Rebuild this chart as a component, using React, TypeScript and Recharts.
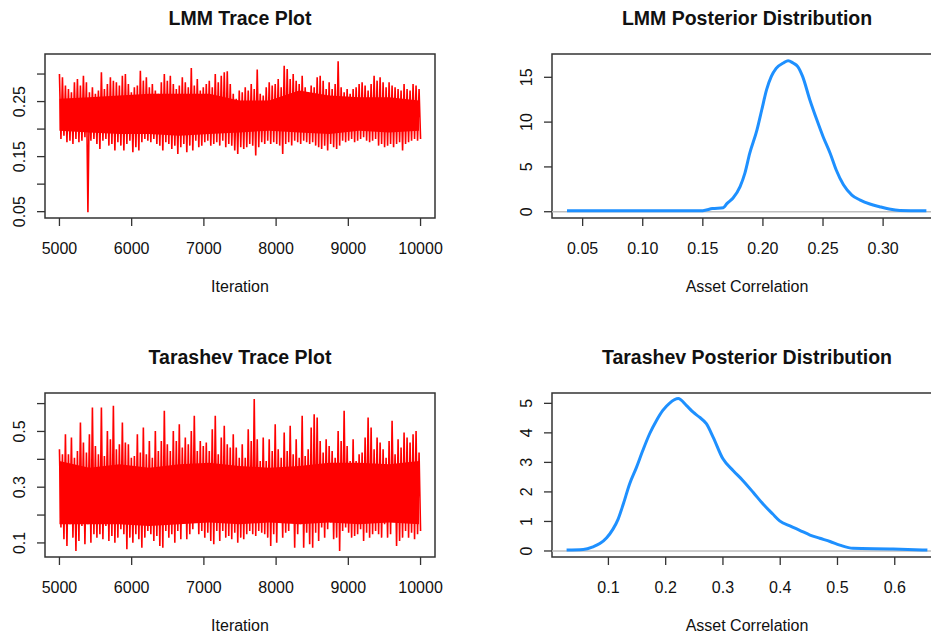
import React from "react";
import {
  ComposedChart,
  Line,
  Area,
  XAxis,
  YAxis,
  ReferenceArea,
  ReferenceLine,
  Customized,
} from "recharts";

// MCMC traces: alternating upper / lower excursions of the chain, iterations 5000..10000
const lmmTraceHigh = [
  0.300, 0.294, 0.279, 0.273, 0.267, 0.285, 0.291, 0.279, 0.297, 0.285,
  0.267, 0.276, 0.264, 0.270, 0.303, 0.273, 0.282, 0.294, 0.288, 0.285,
  0.279, 0.297, 0.300, 0.282, 0.267, 0.276, 0.279, 0.306, 0.288, 0.294,
  0.276, 0.282, 0.270, 0.264, 0.285, 0.300, 0.288, 0.297, 0.282, 0.273,
  0.279, 0.294, 0.285, 0.276, 0.311, 0.279, 0.291, 0.270, 0.276, 0.282,
  0.288, 0.276, 0.300, 0.285, 0.297, 0.303, 0.305, 0.282, 0.264, 0.255,
  0.270, 0.267, 0.276, 0.270, 0.282, 0.273, 0.308, 0.264, 0.261, 0.276,
  0.285, 0.279, 0.282, 0.291, 0.276, 0.315, 0.309, 0.291, 0.300, 0.288,
  0.282, 0.297, 0.276, 0.267, 0.279, 0.276, 0.294, 0.297, 0.288, 0.273,
  0.285, 0.273, 0.282, 0.323, 0.276, 0.267, 0.273, 0.264, 0.273, 0.276,
  0.282, 0.285, 0.279, 0.270, 0.282, 0.297, 0.288, 0.294, 0.285, 0.276,
  0.285, 0.279, 0.276, 0.273, 0.270, 0.282, 0.273, 0.270, 0.282, 0.279,
  0.273,
];
const lmmTraceLow = [
  0.182, 0.188, 0.176, 0.179, 0.173, 0.182, 0.176, 0.179, 0.185, 0.049,
  0.179, 0.182, 0.173, 0.164, 0.179, 0.182, 0.170, 0.173, 0.161, 0.176,
  0.170, 0.161, 0.173, 0.179, 0.158, 0.167, 0.161, 0.176, 0.182, 0.179,
  0.176, 0.182, 0.173, 0.170, 0.161, 0.176, 0.173, 0.164, 0.170, 0.155,
  0.167, 0.173, 0.158, 0.170, 0.161, 0.179, 0.167, 0.170, 0.176, 0.179,
  0.170, 0.173, 0.176, 0.170, 0.179, 0.167, 0.173, 0.170, 0.161, 0.155,
  0.167, 0.164, 0.167, 0.173, 0.170, 0.152, 0.167, 0.176, 0.173, 0.179,
  0.173, 0.176, 0.173, 0.170, 0.155, 0.173, 0.176, 0.170, 0.179, 0.176,
  0.173, 0.179, 0.176, 0.173, 0.176, 0.170, 0.167, 0.164, 0.170, 0.161,
  0.173, 0.167, 0.164, 0.170, 0.179, 0.176, 0.179, 0.182, 0.176, 0.179,
  0.182, 0.185, 0.179, 0.176, 0.179, 0.182, 0.170, 0.173, 0.167, 0.170,
  0.173, 0.167, 0.173, 0.176, 0.161, 0.173, 0.176, 0.179, 0.182, 0.179,
  0.182,
];
// dense middle of the chain, every ~415 iterations
const lmmCoreTop = [
  0.255, 0.258, 0.261, 0.264, 0.264, 0.264, 0.252, 0.252, 0.270, 0.261,
  0.258, 0.258, 0.252,
];
const lmmCoreBottom = [
  0.197, 0.194, 0.191, 0.191, 0.188, 0.191, 0.194, 0.197, 0.194, 0.191,
  0.197, 0.194, 0.197,
];

const tarTraceHigh = [
  0.436, 0.418, 0.490, 0.418, 0.478, 0.406, 0.430, 0.532, 0.460, 0.424,
  0.490, 0.586, 0.448, 0.418, 0.586, 0.412, 0.502, 0.472, 0.592, 0.436,
  0.454, 0.532, 0.460, 0.454, 0.406, 0.412, 0.490, 0.424, 0.514, 0.418,
  0.466, 0.406, 0.502, 0.430, 0.466, 0.574, 0.454, 0.430, 0.502, 0.466,
  0.526, 0.442, 0.478, 0.454, 0.502, 0.556, 0.430, 0.466, 0.448, 0.460,
  0.430, 0.508, 0.556, 0.418, 0.478, 0.520, 0.454, 0.442, 0.490, 0.442,
  0.406, 0.454, 0.406, 0.508, 0.466, 0.616, 0.472, 0.394, 0.478, 0.394,
  0.472, 0.430, 0.526, 0.436, 0.406, 0.496, 0.430, 0.520, 0.418, 0.472,
  0.406, 0.556, 0.412, 0.436, 0.514, 0.562, 0.550, 0.466, 0.424, 0.472,
  0.448, 0.430, 0.406, 0.502, 0.466, 0.574, 0.448, 0.394, 0.472, 0.394,
  0.418, 0.424, 0.478, 0.550, 0.514, 0.436, 0.478, 0.460, 0.436, 0.406,
  0.466, 0.538, 0.418, 0.472, 0.442, 0.496, 0.478, 0.460, 0.490, 0.502,
  0.424,
];
const tarTraceLow = [
  0.155, 0.113, 0.089, 0.167, 0.119, 0.071, 0.107, 0.161, 0.095, 0.167,
  0.101, 0.131, 0.119, 0.131, 0.113, 0.161, 0.107, 0.125, 0.101, 0.119,
  0.149, 0.131, 0.077, 0.119, 0.101, 0.131, 0.113, 0.083, 0.119, 0.143,
  0.131, 0.107, 0.125, 0.089, 0.083, 0.143, 0.119, 0.131, 0.101, 0.143,
  0.113, 0.173, 0.113, 0.131, 0.149, 0.185, 0.131, 0.143, 0.119, 0.137,
  0.107, 0.095, 0.143, 0.107, 0.143, 0.119, 0.125, 0.113, 0.137, 0.101,
  0.119, 0.113, 0.131, 0.143, 0.131, 0.125, 0.143, 0.137, 0.131, 0.119,
  0.089, 0.131, 0.101, 0.173, 0.119, 0.137, 0.143, 0.173, 0.083, 0.131,
  0.167, 0.083, 0.137, 0.095, 0.083, 0.137, 0.107, 0.155, 0.119, 0.149,
  0.173, 0.113, 0.119, 0.071, 0.143, 0.155, 0.137, 0.119, 0.125, 0.131,
  0.149, 0.107, 0.137, 0.119, 0.131, 0.143, 0.131, 0.119, 0.167, 0.119,
  0.131, 0.197, 0.089, 0.107, 0.119, 0.143, 0.119, 0.137, 0.113, 0.131,
  0.143,
];
const tarCoreTop = [
  0.394, 0.370, 0.382, 0.370, 0.382, 0.388, 0.376, 0.370, 0.376, 0.388,
  0.388, 0.382, 0.394,
];
const tarCoreBottom = [
  0.167, 0.167, 0.167, 0.161, 0.167, 0.173, 0.167, 0.173, 0.167, 0.173,
  0.167, 0.173, 0.167,
];

// kernel density estimates of the posterior
const lmmDensX = [
  0.037, 0.1, 0.15, 0.158, 0.167, 0.17, 0.175, 0.181, 0.185, 0.189, 0.195,
  0.199, 0.203, 0.207, 0.211, 0.217, 0.221, 0.225, 0.229, 0.233, 0.239,
  0.245, 0.25, 0.256, 0.261, 0.267, 0.274, 0.281, 0.289, 0.297, 0.305,
  0.314, 0.336,
];
const lmmDensY = [
  0.1, 0.1, 0.12, 0.35, 0.45, 0.9, 1.5, 2.8, 4.3, 6.5, 9.1, 11.35, 13.6, 15.1,
  16.0, 16.6, 16.85, 16.6, 16.2, 15.1, 12.5, 10.2, 8.4, 6.5, 4.65, 3.0, 1.86,
  1.3, 0.86, 0.56, 0.3, 0.14, 0.1,
];
const tarDensX = [
  0.027, 0.056, 0.073, 0.085, 0.097, 0.108, 0.117, 0.126, 0.137, 0.149, 0.16,
  0.172, 0.184, 0.195, 0.207, 0.222, 0.236, 0.248, 0.259, 0.271, 0.283, 0.3,
  0.318, 0.335, 0.353, 0.37, 0.387, 0.399, 0.417, 0.434, 0.452, 0.469, 0.487,
  0.504, 0.527, 0.597, 0.657,
];
const tarDensY = [
  0.03, 0.05, 0.14, 0.25, 0.45, 0.74, 1.08, 1.59, 2.27, 2.83, 3.4, 3.97, 4.42,
  4.76, 5.01, 5.16, 4.93, 4.7, 4.53, 4.31, 3.85, 3.12, 2.72, 2.38, 1.98, 1.59,
  1.25, 1.02, 0.85, 0.7, 0.54, 0.43, 0.32, 0.2, 0.09, 0.07, 0.03,
];

const iterTicks = [5000, 6000, 7000, 8000, 9000, 10000];
const lmmTraceTicks = [0.05, 0.1, 0.15, 0.2, 0.25, 0.3];
const lmmTraceLabels = [0.05, 0.15, 0.25];
const tarTraceTicks = [0.1, 0.2, 0.3, 0.4, 0.5, 0.6];
const tarTraceLabels = [0.1, 0.3, 0.5];
const lmmDensXTicks = [0.05, 0.1, 0.15, 0.2, 0.25, 0.3];
const lmmDensYTicks = [0, 5, 10, 15];
const tarDensXTicks = [0.1, 0.2, 0.3, 0.4, 0.5, 0.6];
const tarDensYTicks = [0, 1, 2, 3, 4, 5];

const FONT = '"Liberation Sans", Arial, Helvetica, sans-serif';
const INK = "#111";
const FRAME = "#333";
const CORE_EVERY = 10; // one core reading per 10 high/low pairs

type Row = { x: number; y: number; core?: [number, number] };

function traceRows(
  high: number[],
  low: number[],
  coreTop: number[],
  coreBottom: number[]
): Row[] {
  const rows: Row[] = [];
  const n = high.length * 2;
  const step = 5000 / (n - 1);
  high.forEach((h, i) => {
    const hi: Row = { x: 5000 + 2 * i * step, y: h };
    if (i % CORE_EVERY === 0) {
      const j = i / CORE_EVERY;
      hi.core = [coreBottom[j], coreTop[j]];
    }
    rows.push(hi, { x: 5000 + (2 * i + 1) * step, y: low[i] });
  });
  return rows;
}

function densRows(xs: number[], ys: number[]): Row[] {
  return xs.map((x, i) => ({ x, y: ys[i] }));
}

type PanelProps = {
  left: number;
  top: number;
  title: string;
  xTitle: string;
  data: Row[];
  kind: "trace" | "density";
  xDomain: [number, number];
  yDomain: [number, number];
  xTicks: number[];
  yTicks: number[];
  yLabels: number[];
  fmtX: (v: number) => string;
  fmtY: (v: number) => string;
};

function Panel(p: PanelProps) {
  const W = 470;
  const H = 310;
  const cx = 240;

  const xTick = (t: any) => (
    <text
      x={t.x}
      y={254}
      textAnchor="middle"
      fontSize={16}
      fontFamily={FONT}
      fill={INK}
    >
      {p.fmtX(t.payload.value)}
    </text>
  );

  const yTick = (t: any) => {
    const v = t.payload.value;
    if (!p.yLabels.some((l) => Math.abs(l - v) < 1e-9)) return <g />;
    return (
      <text
        x={25}
        y={t.y}
        transform={`rotate(-90, 25, ${t.y})`}
        textAnchor="middle"
        fontSize={16}
        fontFamily={FONT}
        fill={INK}
      >
        {p.fmtY(v)}
      </text>
    );
  };

  const titles = () => (
    <g fontFamily={FONT} fill={INK}>
      <text x={cx} y={25} textAnchor="middle" fontSize={19.5} fontWeight="bold">
        {p.title}
      </text>
      <text x={cx} y={291.5} textAnchor="middle" fontSize={16}>
        {p.xTitle}
      </text>
    </g>
  );

  const isDens = p.kind === "density";

  return (
    <div style={{ position: "absolute", left: p.left, top: p.top }}>
      <ComposedChart
        width={W}
        height={H}
        data={p.data}
        margin={{ top: 54, right: 35, left: 0, bottom: 0 }}
      >
        <XAxis
          dataKey="x"
          type="number"
          domain={p.xDomain}
          ticks={p.xTicks}
          interval={0}
          allowDataOverflow
          height={92}
          tickSize={8}
          axisLine={false}
          tickLine={{ stroke: FRAME, strokeWidth: 1.3 }}
          tick={xTick}
        />
        <YAxis
          type="number"
          domain={p.yDomain}
          ticks={p.yTicks}
          interval={0}
          allowDataOverflow
          width={45}
          tickSize={8}
          axisLine={false}
          tickLine={{ stroke: FRAME, strokeWidth: 1.3 }}
          tick={yTick}
        />
        {isDens && <ReferenceLine y={0} stroke="#BEBEBE" strokeWidth={1.5} />}
        {!isDens && (
          <Area
            dataKey="core"
            type="linear"
            connectNulls
            stroke="none"
            fill="#FF0000"
            fillOpacity={1}
            dot={false}
            activeDot={false}
            isAnimationActive={false}
          />
        )}
        <Line
          dataKey="y"
          type={isDens ? "monotone" : "linear"}
          stroke={isDens ? "#1E90FF" : "#FF0000"}
          strokeWidth={isDens ? 3 : 1.6}
          dot={false}
          activeDot={false}
          isAnimationActive={false}
        />
        <ReferenceArea
          x1={p.xDomain[0]}
          x2={p.xDomain[1]}
          y1={p.yDomain[0]}
          y2={p.yDomain[1]}
          fill="none"
          fillOpacity={0}
          stroke={FRAME}
          strokeWidth={1.5}
        />
        <Customized component={titles} />
      </ComposedChart>
    </div>
  );
}

const fmt2 = (v: number) => v.toFixed(2);
const fmt1 = (v: number) => v.toFixed(1);
const fmt0 = (v: number) => String(v);

export default function App() {
  return (
    <div
      style={{
        position: "absolute",
        left: 0,
        top: 0,
        width: 931,
        height: 633,
        overflow: "hidden",
        background: "#fff",
      }}
    >
      <Panel
        left={0}
        top={0}
        title="LMM Trace Plot"
        xTitle="Iteration"
        data={traceRows(lmmTraceHigh, lmmTraceLow, lmmCoreTop, lmmCoreBottom)}
        kind="trace"
        xDomain={[4800, 10200]}
        yDomain={[0.0385, 0.3364]}
        xTicks={iterTicks}
        yTicks={lmmTraceTicks}
        yLabels={lmmTraceLabels}
        fmtX={fmt0}
        fmtY={fmt2}
      />
      <Panel
        left={507}
        top={0}
        title="LMM Posterior Distribution"
        xTitle="Asset Correlation"
        data={densRows(lmmDensX, lmmDensY)}
        kind="density"
        xDomain={[0.0245, 0.349]}
        yDomain={[-0.7, 17.6]}
        xTicks={lmmDensXTicks}
        yTicks={lmmDensYTicks}
        yLabels={lmmDensYTicks}
        fmtX={fmt2}
        fmtY={fmt0}
      />
      <Panel
        left={0}
        top={339}
        title="Tarashev Trace Plot"
        xTitle="Iteration"
        data={traceRows(tarTraceHigh, tarTraceLow, tarCoreTop, tarCoreBottom)}
        kind="trace"
        xDomain={[4800, 10200]}
        yDomain={[0.0495, 0.638]}
        xTicks={iterTicks}
        yTicks={tarTraceTicks}
        yLabels={tarTraceLabels}
        fmtX={fmt0}
        fmtY={fmt1}
      />
      <Panel
        left={507}
        top={339}
        title="Tarashev Posterior Distribution"
        xTitle="Asset Correlation"
        data={densRows(tarDensX, tarDensY)}
        kind="density"
        xDomain={[0.0015, 0.6825]}
        yDomain={[-0.204, 5.35]}
        xTicks={tarDensXTicks}
        yTicks={tarDensYTicks}
        yLabels={tarDensYTicks}
        fmtX={fmt1}
        fmtY={fmt0}
      />
    </div>
  );
}
